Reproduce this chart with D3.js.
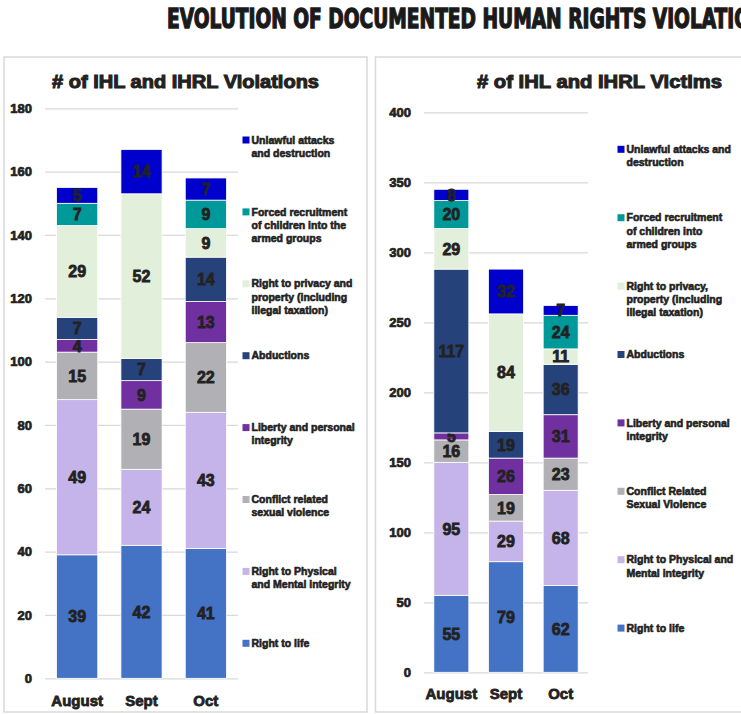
<!DOCTYPE html>
<html>
<head>
<meta charset="utf-8">
<script src="https://cdn.jsdelivr.net/npm/d3@7"></script>
<style>
  body { margin: 0; background: #fff; }
  svg { display: block; font-family: "Liberation Sans", Arial, sans-serif; }
  .heavy { font-weight: bold; fill: #222; stroke: #222; }
</style>
</head>
<body>
<script>
// months on the x axis
const months = ["August", "Sept", "Oct"];

// stack order, bottom to top
const seriesKeys = ["life", "physical", "sexual", "liberty", "abductions", "privacy", "forced", "unlawful"];
const seriesColors = ["#4472c4", "#c5b4e9", "#b1b1b5", "#7030a0", "#25437a", "#e2efda", "#00999a", "#0000cc"];

// violations
const violLife = [39, 42, 41];
const violPhysical = [49, 24, 43];
const violSexual = [15, 19, 22];
const violLiberty = [4, 9, 13];
const violAbductions = [7, 7, 14];
const violPrivacy = [29, 52, 9];
const violForced = [7, 0, 9];
const violUnlawful = [5, 14, 7];

// victims
const victLife = [55, 79, 62];
const victPhysical = [95, 29, 68];
const victSexual = [16, 19, 23];
const victLiberty = [5, 26, 31];
const victAbductions = [117, 19, 36];
const victPrivacy = [29, 84, 11];
const victForced = [20, 0, 24];
const victUnlawful = [8, 32, 7];

const violTicks = [0, 20, 40, 60, 80, 100, 120, 140, 160, 180];
const victTicks = [0, 50, 100, 150, 200, 250, 300, 350, 400];

// legend labels (same order as seriesKeys)
const violLegend = [
  ["Right to life"],
  ["Right to Physical", "and Mental integrity"],
  ["Conflict related", "sexual violence"],
  ["Liberty and personal", "integrity"],
  ["Abductions"],
  ["Right to privacy and", "property (including", "illegal taxation)"],
  ["Forced recruitment", "of children into the", "armed groups"],
  ["Unlawful attacks", "and destruction"]
];
const victLegend = [
  ["Right to life"],
  ["Right to Physical and", "Mental integrity"],
  ["Conflict Related", "Sexual Violence"],
  ["Liberty and personal", "integrity"],
  ["Abductions"],
  ["Right to privacy,", "property (including", "illegal taxation)"],
  ["Forced recruitment", "of children into", "armed groups"],
  ["Unlawful attacks and", "destruction"]
];

const W = 741, H = 714;
const svg = d3.select("body").append("svg").attr("width", W).attr("height", H);

// main title (cut at the right edge like the original)
svg.append("text")
  .attr("x", 167).attr("y", 27.5)
  .attr("textLength", 612).attr("lengthAdjust", "spacingAndGlyphs")
  .style("font-family", "'Liberation Sans Narrow', 'DejaVu Sans Condensed', sans-serif")
  .style("font-size", "26px").style("font-weight", "bold")
  .style("fill", "#1a1a1a").style("stroke", "#1a1a1a").style("stroke-width", 1.3)
  .text("EVOLUTION OF DOCUMENTED HUMAN RIGHTS VIOLATIONS");

// panels
svg.append("rect").attr("x", 4).attr("y", 57).attr("width", 363).attr("height", 655)
  .attr("fill", "none").attr("stroke", "#d9d9d9").attr("stroke-width", 1.5);
svg.append("rect").attr("x", 375.5).attr("y", 57).attr("width", 400).attr("height", 655)
  .attr("fill", "none").attr("stroke", "#d9d9d9").attr("stroke-width", 1.5);

function drawChart(opt) {
  const g = svg.append("g");

  const rows = months.map((m, i) => {
    const r = { month: m };
    seriesKeys.forEach((k, j) => { r[k] = opt.values[j][i]; });
    return r;
  });

  const x = d3.scaleBand().domain(months).range([opt.x0, opt.x1])
    .paddingInner(0.36).paddingOuter(0.18);
  const y = d3.scaleLinear().domain([0, d3.max(opt.ticks)]).range([opt.yBottom, opt.yTop]);
  const color = d3.scaleOrdinal().domain(seriesKeys).range(seriesColors);

  // chart title
  g.append("text").attr("class", "heavy")
    .attr("x", opt.titleX).attr("y", 88)
    .attr("text-anchor", "middle")
    .attr("textLength", opt.titleW).attr("lengthAdjust", "spacingAndGlyphs")
    .style("font-size", "18px").style("stroke-width", 1)
    .text(opt.title);

  // y axis + gridlines
  const yAxis = g.append("g")
    .attr("transform", `translate(${opt.x0},0)`)
    .call(d3.axisLeft(y).tickValues(opt.ticks).tickSize(-(opt.x1 - opt.x0)).tickPadding(opt.tickPad));
  yAxis.select(".domain").remove();
  yAxis.selectAll("line").attr("stroke", "#d9d9d9").attr("stroke-width", 1.3);
  yAxis.selectAll("text").attr("class", "heavy")
    .style("font-size", "13px").style("stroke-width", 0.7).style("font-family", "'Liberation Sans', Arial, sans-serif");

  // stacked bars
  const stacked = d3.stack().keys(seriesKeys)(rows);
  const layer = g.selectAll("g.layer").data(stacked).join("g")
    .attr("class", "layer").attr("fill", d => color(d.key));

  layer.selectAll("rect").data(d => d).join("rect")
    .attr("x", d => x(d.data.month))
    .attr("width", x.bandwidth())
    .attr("y", d => y(d[1]))
    .attr("height", d => y(d[0]) - y(d[1]))
    .attr("stroke", "#ffffff").attr("stroke-width", 0.8);

  layer.selectAll("text").data(d => d.filter(s => s[1] - s[0] > 0)).join("text")
    .attr("class", "heavy")
    .attr("x", d => x(d.data.month) + x.bandwidth() / 2)
    .attr("y", d => y((d[0] + d[1]) / 2))
    .attr("dy", "0.36em")
    .attr("text-anchor", "middle")
    .style("font-size", "16px").style("stroke-width", 0.8)
    .text(d => d[1] - d[0]);

  // x axis labels
  const xAxis = g.append("g")
    .attr("transform", `translate(0,${opt.yBottom})`)
    .call(d3.axisBottom(x).tickSize(0).tickPadding(opt.xPad));
  xAxis.select(".domain").remove();
  xAxis.selectAll("text").attr("class", "heavy")
    .style("font-size", "15px").style("stroke-width", 0.8).style("font-family", "'Liberation Sans', Arial, sans-serif");

  // legend, top to bottom is the reverse of the stack
  const legendItems = seriesKeys.map((k, i) => ({ key: k, lines: opt.legend[i] })).reverse();
  const lg = g.selectAll("g.legend").data(legendItems).join("g")
    .attr("class", "legend")
    .attr("transform", (d, i) => `translate(0,${opt.legendY0 + i * opt.legendStep})`);
  lg.append("rect")
    .attr("x", opt.legendX).attr("y", -3.5)
    .attr("width", 7).attr("height", 7)
    .attr("fill", d => color(d.key));
  lg.selectAll("text").data(d => d.lines).join("text")
    .attr("class", "heavy")
    .attr("x", opt.legendX + 9)
    .attr("y", (d, i) => i * 13.3 + 3.6)
    .style("font-size", "10.5px").style("stroke-width", 0.6)
    .text(d => d);
}

drawChart({
  title: "# of IHL and IHRL Violations", titleX: 185.5, titleW: 267,
  values: [violLife, violPhysical, violSexual, violLiberty, violAbductions, violPrivacy, violForced, violUnlawful],
  ticks: violTicks,
  x0: 45, x1: 238, yBottom: 678.3, yTop: 108.3, tickPad: 13, xPad: 17,
  legend: violLegend, legendX: 242.5, legendY0: 140, legendStep: 71.9
});

drawChart({
  title: "# of IHL and IHRL Victims", titleX: 599.5, titleW: 245,
  values: [victLife, victPhysical, victSexual, victLiberty, victAbductions, victPrivacy, victForced, victUnlawful],
  ticks: victTicks,
  x0: 424, x1: 588, yBottom: 672.3, yTop: 112.3, tickPad: 13, xPad: 16,
  legend: victLegend, legendX: 617.5, legendY0: 149.3, legendStep: 68.4
});
</script>
</body>
</html>
